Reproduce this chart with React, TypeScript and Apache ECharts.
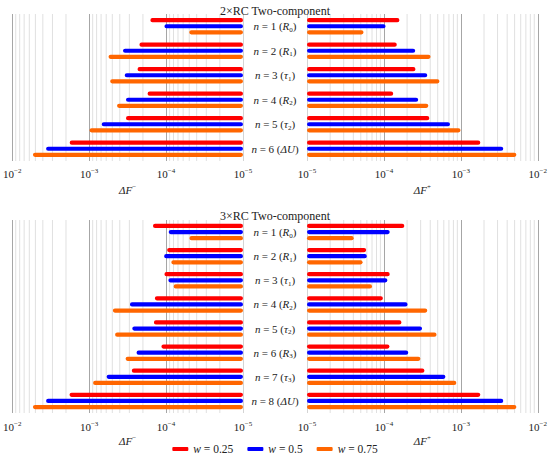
import React, { useEffect, useRef } from 'react';
import * as echarts from 'echarts';

const FONT = 'Liberation Serif';

const panelTitles = ['2×RC Two-component', '3×RC Two-component'];
const seriesNames = ['w = 0.25', 'w = 0.5', 'w = 0.75'];
const seriesColors = ['#ff0000', '#0000ff', '#ff6600'];

const topSymbols = ['R', 'R', 'τ', 'R', 'τ', 'ΔU'];
const topSubs = ['0', '1', '1', '2', '2', ''];
const bottomSymbols = ['R', 'R', 'τ', 'R', 'τ', 'R', 'τ', 'ΔU'];
const bottomSubs = ['0', '1', '1', '2', '2', '3', '3', ''];

// ΔF- (left) and ΔF+ (right), 2xRC panel
const top2Minus_w025 = [1.6e-4, 2.22e-4, 2.35e-4, 1.74e-4, 3.32e-4, 1.79e-3];
const top2Minus_w05 = [1.05e-4, 3.63e-4, 3.45e-4, 3.32e-4, 6.87e-4, 3.63e-3];
const top2Minus_w075 = [5.0e-5, 5.6e-4, 5.33e-4, 4.34e-4, 9.9e-4, 5.38e-3];
const top2Plus_w025 = [1.59e-4, 1.47e-4, 2.57e-4, 1.32e-4, 3.89e-4, 1.79e-3];
const top2Plus_w05 = [1.05e-4, 2.55e-4, 3.66e-4, 2.79e-4, 7.23e-4, 3.56e-3];
const top2Plus_w075 = [5.43e-5, 4.04e-4, 5.27e-4, 3.78e-4, 9.9e-4, 5.27e-3];

// 3xRC panel
const bottom3Minus_w025 = [1.48e-4, 9.7e-5, 1.05e-4, 1.4e-4, 1.44e-4, 1.15e-4, 2.79e-4, 1.8e-3];
const bottom3Minus_w05 = [9.25e-5, 1.06e-4, 9.34e-5, 2.95e-4, 2.75e-4, 2.42e-4, 5.93e-4, 3.63e-3];
const bottom3Minus_w075 = [4.97e-5, 8.55e-5, 7.97e-5, 4.92e-4, 4.6e-4, 3.36e-4, 8.89e-4, 5.38e-3];
const bottom3Plus_w025 = [1.84e-4, 5.88e-5, 1.19e-4, 9.7e-5, 1.69e-4, 1.18e-4, 3.36e-4, 1.79e-3];
const bottom3Plus_w05 = [1.19e-4, 6.0e-5, 1.11e-4, 2.03e-4, 3.13e-4, 2.07e-4, 6.3e-4, 3.56e-3];
const bottom3Plus_w075 = [4.05e-5, 5.28e-5, 7.0e-5, 3.66e-4, 4.83e-4, 2.98e-4, 8.73e-4, 5.27e-3];

// axis: log10 exponents of decades shown as tick labels
const decadeMin = -5;
const decadeMax = -2;
const minorMultipliers = [2, 3, 4, 5, 6, 7, 8, 9];
const minorDecades = [-5, -4, -3];

const panelSeries = [
  [top2Minus_w025, top2Minus_w05, top2Minus_w075],
  [top2Plus_w025, top2Plus_w05, top2Plus_w075],
  [bottom3Minus_w025, bottom3Minus_w05, bottom3Minus_w075],
  [bottom3Plus_w025, bottom3Plus_w05, bottom3Plus_w075],
];

const barOffsets = [-6.1, 0, 6.1];
const BAR_H = 4.2;

export default function App() {
  const ref = useRef<HTMLDivElement>(null);

  useEffect(() => {
    if (!ref.current) return;
    const chart = echarts.init(ref.current, undefined, { renderer: 'svg' });

    const grids = [
      { left: 9, top: 14, width: 234, height: 147 },
      { left: 307, top: 14, width: 233, height: 147 },
      { left: 9, top: 220, width: 234, height: 193 },
      { left: 307, top: 220, width: 233, height: 193 },
    ];

    const tickRich = {
      b: { fontSize: 11, fontFamily: FONT, color: '#222', lineHeight: 14 },
      s: { fontSize: 7, fontFamily: FONT, color: '#222', verticalAlign: 'top' },
    };
    const tickFormatter = (v: number) => `{b|10}{s|${v < 0 ? '−' : ''}${Math.abs(v)}}`;

    const catRich = {
      t: { fontSize: 11, fontFamily: FONT, color: '#222', lineHeight: 14 },
      i: { fontSize: 11, fontFamily: FONT, color: '#222', fontStyle: 'italic', lineHeight: 14 },
      sub: { fontSize: 7, fontFamily: FONT, color: '#222', verticalAlign: 'bottom' },
    };
    const catFormatter = (syms: string[], subs: string[]) => (_v: string, idx: number) =>
      `{i|n}{t| = ${idx + 1} (}{i|${syms[idx]}}${subs[idx] ? `{sub|${subs[idx]}}` : ''}{t|)}`;

    const nameRich = {
      i: { fontSize: 11, fontFamily: FONT, color: '#222', fontStyle: 'italic', lineHeight: 14 },
      s: { fontSize: 7, fontFamily: FONT, color: '#222', verticalAlign: 'top' },
    };

    const majorColors = ['#d4d4d4', '#a6a6a6', '#a6a6a6', '#a6a6a6'];

    const xAxes = grids.map((_, gi) => {
      const isLeft = gi % 2 === 0;
      const isTop = gi < 2;
      return {
        gridIndex: gi,
        type: 'value',
        min: decadeMin,
        max: decadeMax,
        interval: 1,
        inverse: isLeft,
        axisLine: { show: false },
        axisTick: { show: false },
        splitLine: { show: true, lineStyle: { color: majorColors, width: 1 } },
        axisLabel: {
          formatter: tickFormatter,
          rich: tickRich,
          fontFamily: FONT,
          fontSize: 11,
          color: '#222',
          margin: isTop ? 6 : 7,
        },
        name: isLeft ? '{i|ΔF}{s|−}' : '{i|ΔF}{s|+}',
        nameLocation: 'middle',
        nameGap: isTop ? 22 : 21,
        nameTextStyle: { rich: nameRich, fontFamily: FONT, fontSize: 11, color: '#222' },
      };
    });

    const yAxes = grids.map((_, gi) => {
      const isLeft = gi % 2 === 0;
      const isTop = gi < 2;
      const syms = isTop ? topSymbols : bottomSymbols;
      const subs = isTop ? topSubs : bottomSubs;
      return {
        gridIndex: gi,
        type: 'category',
        data: syms.map((_s, i) => String(i + 1)),
        inverse: true,
        position: 'right',
        show: isLeft,
        axisLine: { show: false },
        axisTick: { show: false },
        splitLine: { show: false },
        axisLabel: {
          formatter: catFormatter(syms, subs),
          rich: catRich,
          fontFamily: FONT,
          fontSize: 11,
          color: '#222',
          align: 'center',
          margin: 32,
        },
      };
    });

    const minorValues: number[] = [];
    minorDecades.forEach((d) => minorMultipliers.forEach((m) => minorValues.push(d + Math.log10(m))));

    const series: any[] = [];
    grids.forEach((_, gi) => {
      series.push({
        type: 'custom',
        xAxisIndex: gi,
        yAxisIndex: gi,
        silent: true,
        z: 1,
        data: minorValues.map((v) => [v, 0]),
        encode: { x: 0, y: 1 },
        renderItem: (params: any, api: any) => {
          const cs = params.coordSys;
          const p = api.coord([api.value(0), 0]);
          return {
            type: 'line',
            shape: { x1: p[0], y1: cs.y, x2: p[0], y2: cs.y + cs.height },
            style: { stroke: '#e0e0e0', lineWidth: 1 },
          };
        },
      });
      panelSeries[gi].forEach((vals, si) => {
        series.push({
          type: 'custom',
          name: seriesNames[si],
          xAxisIndex: gi,
          yAxisIndex: gi,
          z: 3,
          itemStyle: { color: seriesColors[si] },
          data: vals.map((v, i) => [Math.log10(v), i]),
          encode: { x: 0, y: 1 },
          renderItem: (_params: any, api: any) => {
            const idx = api.value(1);
            const start = api.coord([decadeMin, idx]);
            const end = api.coord([api.value(0), idx]);
            const x = Math.min(start[0], end[0]);
            const w = Math.abs(end[0] - start[0]);
            return {
              type: 'rect',
              shape: { x, y: start[1] + barOffsets[si] - BAR_H / 2, width: w, height: BAR_H, r: BAR_H / 2 },
              style: { fill: seriesColors[si] },
            };
          },
        });
      });
    });

    chart.setOption({
      animation: false,
      backgroundColor: '#ffffff',
      textStyle: { fontFamily: FONT },
      title: [
        {
          text: panelTitles[0],
          left: 'center',
          top: 0,
          textStyle: { fontFamily: FONT, fontSize: 12, fontWeight: 'normal', color: '#222' },
        },
        {
          text: panelTitles[1],
          left: 'center',
          top: 205,
          textStyle: { fontFamily: FONT, fontSize: 12, fontWeight: 'normal', color: '#222' },
        },
      ],
      legend: {
        data: seriesNames.map((n, i) => ({ name: n, itemStyle: { color: seriesColors[i] } })),
        left: 'center',
        top: 443,
        icon: 'roundRect',
        itemWidth: 16,
        itemHeight: 4,
        itemGap: 14,
        padding: 0,
        selectedMode: false,
        formatter: (name: string) => `{i|w}{t|${name.slice(1)}}`,
        textStyle: {
          fontFamily: FONT,
          fontSize: 11.5,
          color: '#222',
          rich: {
            i: { fontSize: 11.5, fontFamily: FONT, fontStyle: 'italic', color: '#222', lineHeight: 14 },
            t: { fontSize: 11.5, fontFamily: FONT, color: '#222', lineHeight: 14 },
          },
        },
      },
      grid: grids,
      xAxis: xAxes,
      yAxis: yAxes,
      series,
    });

    return () => chart.dispose();
  }, []);

  return (
    <div
      ref={ref}
      style={{ position: 'absolute', left: 0, top: 0, width: 550, height: 460 }}
    />
  );
}
